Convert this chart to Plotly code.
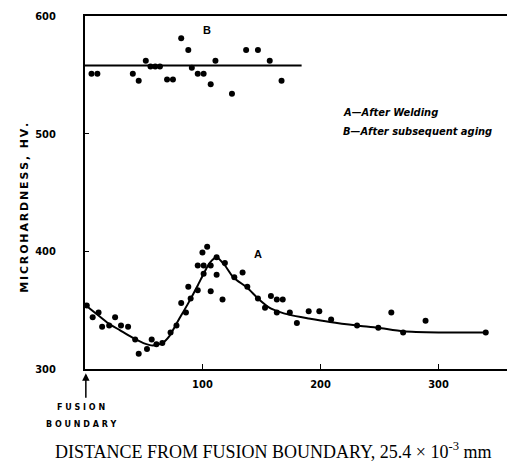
import plotly.graph_objects as go

# Series B: after subsequent aging (scatter)
b_x = [6, 11, 41, 46, 52, 56, 60, 64, 70, 75, 82, 88, 91, 96, 101, 107, 111, 125, 137, 147, 157, 167]
b_y = [551, 551, 551, 545, 562, 557, 557, 557, 546, 546, 581, 571, 556, 551, 551, 542, 562, 534, 571, 571, 562, 545]
# Series B fitted line
b_fit_x = [0, 184]
b_fit_y = [558, 558]

# Series A: after welding (scatter)
a_x = [2, 7, 12, 15, 21, 26, 31, 37, 43, 46, 53, 57, 61, 66, 73, 78, 82, 86, 88, 90, 96, 96, 101, 100, 104,
       101, 107, 107, 112, 112, 117, 119, 127, 134, 138, 147, 153, 158, 163, 163, 168, 174, 180, 190, 199,
       209, 231, 249, 260, 270, 289, 340]
a_y = [354, 344, 348, 336, 337, 344, 337, 336, 325, 313, 317, 325, 321, 322, 331, 337, 356, 348, 370, 360, 367, 388, 388, 399, 404,
       381, 366, 388, 395, 380, 359, 390, 378, 382, 370, 360, 352, 362, 348, 359, 359, 348, 339, 349, 349,
       342, 337, 335, 348, 331, 341, 331]
# Series A fitted curve
a_fit_x = [0, 10, 20, 30, 40, 50, 58, 66, 72, 80, 88, 96, 101, 106, 112, 119, 126, 138, 147, 157, 164, 174, 190, 208, 231, 249, 270, 300, 340]
a_fit_y = [355, 347, 339, 333, 327, 322, 320, 322, 328, 342, 356, 371, 381, 390, 395, 388, 378, 369, 360, 352, 349, 346, 343, 340, 337, 335, 332, 331, 331]

x_ticks = [100, 200, 300]
y_ticks = [300, 400, 500, 600]

tick_font = dict(family="Liberation Sans Narrow, DejaVu Sans Condensed, Arial Narrow, sans-serif",
                 size=11, color="black", weight="bold")

y_title = "\u2006".join("MICROHARDNESS, HV.")

fig = go.Figure()
fig.add_trace(go.Scatter(x=b_fit_x, y=b_fit_y, mode="lines", line=dict(color="black", width=2), showlegend=False))
fig.add_trace(go.Scatter(x=b_x, y=b_y, mode="markers", marker=dict(color="black", size=6), showlegend=False))
fig.add_trace(go.Scatter(x=a_fit_x, y=a_fit_y, mode="lines", line=dict(color="black", width=2, shape="spline", smoothing=0.6), showlegend=False))
fig.add_trace(go.Scatter(x=a_x, y=a_y, mode="markers", marker=dict(color="black", size=6), showlegend=False))

small_font = dict(family="DejaVu Sans, sans-serif", size=8, color="black", weight="bold")

fig.update_layout(
    width=507, height=472,
    margin=dict(l=85, r=0, t=16, b=103),
    plot_bgcolor="white", paper_bgcolor="white",
    xaxis=dict(range=[0.5, 358], showline=True, mirror=True, linecolor="black", linewidth=2,
               showgrid=False, zeroline=False, tickvals=x_ticks, ticktext=[str(v) for v in x_ticks],
               ticks="inside", ticklen=5, tickcolor="black", tickfont=tick_font, ticklabelstandoff=4),
    yaxis=dict(range=[300, 600], showline=True, linecolor="black", linewidth=2,
               showgrid=False, zeroline=False, tickvals=y_ticks, ticktext=[str(v) for v in y_ticks],
               ticks="inside", ticklen=4, tickcolor="black", tickfont=tick_font, ticklabelstandoff=25),
    annotations=[
        dict(text="B", x=104, y=588, xref="x", yref="y", showarrow=False,
             font=dict(family="Liberation Sans, sans-serif", size=11, color="black", weight="bold")),
        dict(text="A", x=147, y=398, xref="x", yref="y", showarrow=False,
             font=dict(family="Liberation Sans, sans-serif", size=11, color="black", weight="bold")),
        dict(text="<i>A—After Welding</i>", x=217, y=518, xref="x", yref="y", xanchor="left", showarrow=False,
             font=dict(family="Liberation Sans Narrow, DejaVu Sans Condensed, sans-serif", size=11, color="black", weight="bold")),
        dict(text="<i>B—After subsequent aging</i>", x=217, y=502, xref="x", yref="y", xanchor="left", showarrow=False,
             font=dict(family="Liberation Sans Narrow, DejaVu Sans Condensed, sans-serif", size=11, color="black", weight="bold")),
        dict(text=y_title, x=-0.142, y=0.457, xref="paper", yref="paper", textangle=-90, showarrow=False,
             xanchor="center", yanchor="middle",
             font=dict(family="DejaVu Sans, sans-serif", size=11, color="black", weight="bold")),
        dict(text="F U S I O N", x=-0.009, y=-0.110, xref="paper", yref="paper", showarrow=False,
             xanchor="center", yanchor="middle", font=small_font),
        dict(text="B O U N D A R Y", x=-0.009, y=-0.156, xref="paper", yref="paper", showarrow=False,
             xanchor="center", yanchor="middle", font=small_font),
        dict(text="", x=0.002, y=-0.012, xref="paper", yref="paper", ax=0, ay=26, showarrow=True,
             arrowhead=2, arrowsize=1, arrowwidth=1.5, arrowcolor="black"),
        dict(text="DISTANCE FROM FUSION BOUNDARY, 25.4 × 10<sup>-3</sup> mm", x=0.445, y=-0.23,
             xref="paper", yref="paper", showarrow=False, yanchor="middle",
             font=dict(family="Liberation Serif, serif", size=18, color="black")),
    ],
)

fig.write_html("out.html")
